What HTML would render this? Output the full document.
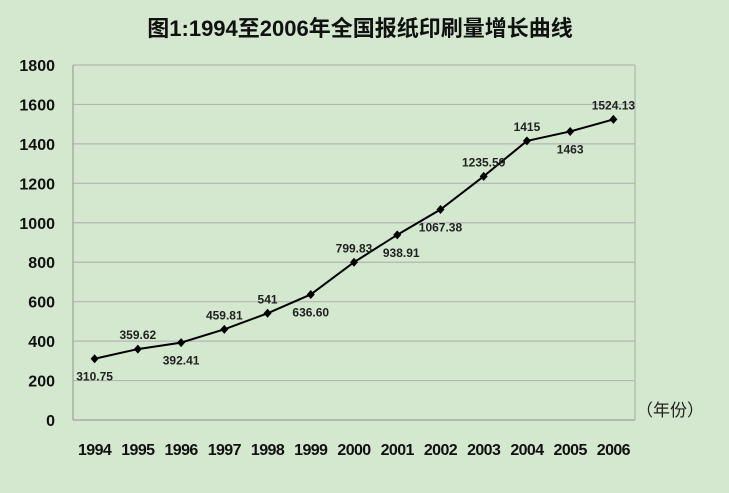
<!DOCTYPE html>
<html><head><meta charset="utf-8"><style>
body{margin:0;background:#d3e8cf;}
svg{display:block;font-family:"Liberation Sans","Noto Sans CJK SC",sans-serif;}
</style></head><body>
<svg width="729" height="493">
<rect width="729" height="493" fill="#d3e8cf"/>
<text x="360" y="36" text-anchor="middle" font-size="22" font-weight="bold" fill="#111">图1:1994至2006年全国报纸印刷量增长曲线</text>
<g id="grid"></g><g id="yt"></g><g id="xt"></g><g id="series"></g>
<text x="636" y="416" font-size="17" fill="#222">（年份）</text>
</svg>
<script>
const years=["1994","1995","1996","1997","1998","1999","2000","2001","2002","2003","2004","2005","2006"];
const values=[310.75,359.62,392.41,459.81,541,636.60,799.83,938.91,1067.38,1235.59,1415,1463,1524.13];
const valueLabels=["310.75","359.62","392.41","459.81","541","636.60","799.83","938.91","1067.38","1235.59","1415","1463","1524.13"];
const labelSide=["below","above","below","above","above","below","above","belowright","below","above","above","below","above"];
const yTicks=[0,200,400,600,800,1000,1200,1400,1600,1800];
const L=73,R=635,T=65,B=420,ymax=1800;
const NS="http://www.w3.org/2000/svg";
const bw=(R-L)/years.length;
const xs=i=>L+(i+0.5)*bw;
const ys=v=>B-(v/ymax)*(B-T);
function mk(tag,attrs,parent){const e=document.createElementNS(NS,tag);for(const k in attrs)e.setAttribute(k,attrs[k]);document.getElementById(parent).appendChild(e);return e;}
yTicks.forEach(t=>{
 const g=mk('line',{x1:L,x2:R,y1:ys(t),y2:ys(t),stroke:t===0?'#a0a0a0':'#b4b4b4','stroke-width':1.2},'grid');
 
 
 const tx=mk('text',{x:55,y:ys(t)+6,'text-anchor':'end','font-size':16,'font-weight':'bold',fill:'#111'},'yt');
 tx.textContent=t;
 
 
});
const ax=mk('line',{x1:L,x2:L,y1:T,y2:B,stroke:'#a0a0a0','stroke-width':1.2},'grid');


const ax2=mk('line',{x1:R,x2:R,y1:T,y2:B,stroke:'#b4b4b4','stroke-width':1.2},'grid');


years.forEach((y,i)=>{
 const tx=mk('text',{x:xs(i),y:455,'text-anchor':'middle','font-size':16,'font-weight':'bold',fill:'#111','letter-spacing':'-0.6'},'xt');
 tx.textContent=y;
 
 
});
const pts=values.map((v,i)=>xs(i)+','+ys(v)).join(' ');
const pl=mk('polyline',{points:pts,fill:'none',stroke:'#000','stroke-width':2},'series');


values.forEach((v,i)=>{
 const x=xs(i),y=ys(v);
 const m=mk('polygon',{points:`${x},${y-4.5} ${x+4},${y} ${x},${y+4.5} ${x-4},${y}`,fill:'#000'},'series');
 
 
 let lx=x,ly=y-10;
 if(labelSide[i]==='below')ly=y+22;
 if(labelSide[i]==='belowright'){lx=x+4;ly=y+22;}
 const t=mk('text',{x:lx,y:ly,'text-anchor':'middle','font-size':12,'font-weight':'bold',fill:'#222'},'series');
 t.textContent=valueLabels[i];
 
 
});
</script>
</body></html>
